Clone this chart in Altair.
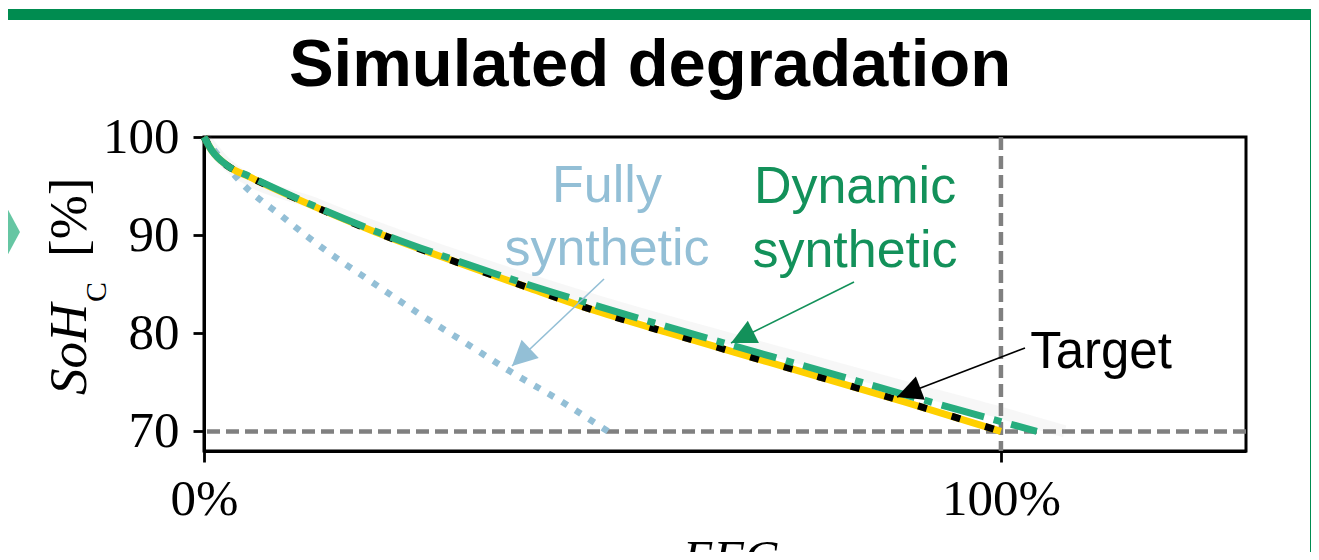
import math
import altair as alt
import pandas as pd

# ---------------- data ----------------
target_efc = [0, 0.01, 0.029, 0.058, 0.146, 0.231, 0.317, 0.405, 0.493, 0.58, 0.666, 0.774, 0.881, 1.0]
target_soh = [100, 98.6, 97.1, 95.9, 92.65, 89.8, 87.24, 84.7, 82.24, 80.1, 78.06, 75.5, 72.96, 70.0]

dynamic_efc = [0, 0.01, 0.029, 0.058, 0.146, 0.231, 0.317, 0.405, 0.493, 0.58, 0.666, 0.774, 0.881, 1.0, 1.045]
dynamic_soh = [100, 98.6, 97.1, 95.95, 92.7, 89.9, 87.4, 85.0, 82.8, 80.7, 78.7, 76.2, 73.7, 71.0, 70.0]

fully_efc = [0, 0.029, 0.045, 0.099, 0.154, 0.211, 0.267, 0.325, 0.384, 0.444, 0.507]
fully_soh = [100, 97.0, 95.5, 91.84, 88.37, 85.2, 82.14, 79.18, 76.12, 73.27, 70.0]

spread_efc = [0, 0.029, 0.146, 0.317, 0.493, 0.666, 0.881, 1.0, 1.08]
spread_soh = [100, 97.2, 93.0, 87.9, 83.3, 79.3, 74.5, 71.9, 70.0]

x_tick_values = [0, 1]
y_tick_values = [70, 80, 90, 100]
eol_soh = [70]
ref_efc = [1.0]

title_text = "Simulated degradation"
label_fully = ["Fully", "synthetic"]
label_dynamic = ["Dynamic", "synthetic"]
label_target = "Target"

# ---------------- layout ----------------
W, H = 1042, 314
PAD_L, PAD_T = 196, 129
SVG_W, SVG_H = 1303, 544
X0, Y0 = 8 + PAD_L, 8 + PAD_T   # page position of plot origin


def px(X):
    return X - X0


def py(Y):
    return Y - Y0


SERIF = "Liberation Serif"
SANS = "Liberation Sans"
C_FULLY = "#93bfd6"
C_DYN_LINE = "#27ad7e"
C_DYN_TEXT = "#13915a"
C_FRAME = "#008c50"

xs = alt.Scale(domain=[0, 1.3075], nice=False, zero=False)
ys = alt.Scale(domain=[68, 100], nice=False, zero=False)

x_axis = alt.Axis(values=x_tick_values, format=".0%", labelFont=SERIF, labelFontSize=51,
                  labelColor="black", tickSize=11, tickWidth=2.8, tickColor="black",
                  domainColor="black", domainWidth=3, grid=False, title=None,
                  labelPadding=12, labelFlush=False)
y_axis = alt.Axis(values=y_tick_values, labelFont=SERIF, labelFontSize=51,
                  labelColor="black", tickSize=11, tickWidth=2.8, tickColor="black",
                  domainColor="black", domainWidth=3, grid=False, title=None,
                  labelPadding=14)


def df_line(xv, yv):
    return pd.DataFrame({"efc": xv, "soh": yv, "order": list(range(len(xv)))})


def enc_line(chart):
    return chart.encode(
        x=alt.X("efc:Q", scale=xs, axis=x_axis),
        y=alt.Y("soh:Q", scale=ys, axis=y_axis),
        order="order:Q",
    )


one = pd.DataFrame({"a": [0]})

# reference lines
h_ref = alt.Chart(pd.DataFrame({"soh": eol_soh})).mark_rule(
    color="#808080", strokeWidth=4.5, strokeDash=[13, 6]
).encode(y=alt.Y("soh:Q", scale=ys, axis=y_axis))
v_ref = alt.Chart(pd.DataFrame({"efc": ref_efc})).mark_rule(
    color="#808080", strokeWidth=4.5, strokeDash=[13, 6]
).encode(x=alt.X("efc:Q", scale=xs, axis=x_axis))

spread = enc_line(alt.Chart(df_line(spread_efc, spread_soh)).mark_line(
    color="#999999", strokeWidth=12, opacity=0.08, interpolate="monotone"))
fully = enc_line(alt.Chart(df_line(fully_efc, fully_soh)).mark_line(
    color=C_FULLY, strokeWidth=6.5, strokeDash=[6.5, 9.5], strokeCap="butt", interpolate="monotone"))
target_y = enc_line(alt.Chart(df_line(target_efc, target_soh)).mark_line(
    color="#ffd000", strokeWidth=7, interpolate="monotone"))
target_k = enc_line(alt.Chart(df_line(target_efc, target_soh)).mark_line(
    color="black", strokeWidth=7, strokeDash=[9, 26], strokeCap="butt", interpolate="monotone"))
dynamic = enc_line(alt.Chart(df_line(dynamic_efc, dynamic_soh)).mark_line(
    color=C_DYN_LINE, strokeWidth=7, strokeDash=[44, 10, 8, 10], strokeCap="butt",
    interpolate="monotone"))


def text_at(txt, X, Y, font=SANS, size=52, color="black", align="center",
            angle=0, style="normal", weight="normal"):
    return alt.Chart(one).mark_text(
        font=font, fontSize=size, color=color, align=align, baseline="alphabetic",
        angle=angle, fontStyle=style, fontWeight=weight,
    ).encode(x=alt.value(px(X)), y=alt.value(py(Y)), text=alt.value(txt))


ARROW = "M 0 0 L 0.5 1 L -0.5 1 Z"


def arrow(x1, y1, x2, y2, color, L=25, width=1.6):
    ang = math.degrees(math.atan2(x2 - x1, -(y2 - y1))) % 360
    line = alt.Chart(one).mark_rule(color=color, strokeWidth=width).encode(
        x=alt.value(px(x1)), y=alt.value(py(y1)), x2=alt.value(px(x2)), y2=alt.value(py(y2)))
    head = alt.Chart(one).mark_point(
        shape=ARROW, filled=True, color=color, opacity=1, size=(2 * L) ** 2,
        angle=ang, strokeWidth=0,
    ).encode(x=alt.value(px(x2)), y=alt.value(py(y2)))
    return line + head


layers = [
    h_ref, v_ref, spread, fully, target_y, target_k, dynamic,
    # annotations
    text_at(label_fully[0], 607, 202, color=C_FULLY),
    text_at(label_fully[1], 607, 265, color=C_FULLY),
    text_at(label_dynamic[0], 855, 203, color=C_DYN_TEXT),
    text_at(label_dynamic[1], 855, 267, color=C_DYN_TEXT),
    text_at(label_target, 1101, 368, size=51),
    arrow(604, 279, 512, 366, C_FULLY),
    arrow(854, 282, 731, 343, C_DYN_TEXT),
    arrow(1025, 348, 897, 397, "black"),
    # title
    text_at(title_text, 650, 86, size=67, weight="bold"),
    # axis titles
    text_at("SoH", 86, 395, font=SERIF, size=53, align="left", angle=270, style="italic"),
    text_at("C", 106, 302, font=SERIF, size=30, align="left", angle=270),
    text_at("[%]", 86, 257, font=SERIF, size=53, align="left", angle=270),
    text_at("EFC", 730, 575, font=SERIF, size=50, style="italic"),
    # surrounding figure decorations
    alt.Chart(one).mark_rule(color=C_FRAME, strokeWidth=11).encode(
        x=alt.value(px(0)), x2=alt.value(px(1319)), y=alt.value(py(14.5)), y2=alt.value(py(14.5))),
    alt.Chart(one).mark_rule(color=C_FRAME, strokeWidth=10).encode(
        x=alt.value(px(1315)), x2=alt.value(px(1315)), y=alt.value(py(9)), y2=alt.value(py(600))),
    alt.Chart(one).mark_point(
        shape="M 0 -1 L 0.54 0 L 0 1 L -0.54 0 Z", filled=True, color="#66c6a3",
        opacity=1, size=(2 * 37) ** 2, strokeWidth=0,
    ).encode(x=alt.value(px(0)), y=alt.value(py(232))),
]

chart = alt.layer(*layers).properties(
    width=W, height=H,
    autosize=alt.AutoSizeParams(type="none"),
    padding={"left": PAD_L, "top": PAD_T, "right": SVG_W - PAD_L - W, "bottom": SVG_H - PAD_T - H},
    background="white",
).configure_view(stroke="black", strokeWidth=3)

chart.save("out.html", embed_options={"renderer": "svg", "actions": False})
